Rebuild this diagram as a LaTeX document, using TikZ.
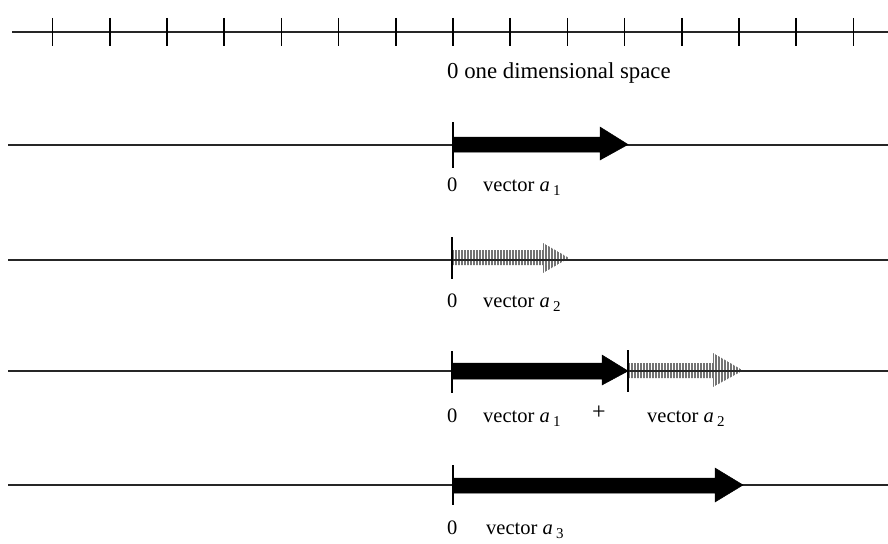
\documentclass[tikz,border=0pt]{standalone}
\usepackage{fontspec}
\setmainfont{Liberation Serif}
\begin{document}
\begin{tikzpicture}[x=1pt,y=-1pt,
  axis/.style={line width=1.4pt,black!85},
  tickmark/.style={line width=1.5pt,black},
  zerotick/.style={line width=1.3pt,black},
  solidvec/.style={fill=black,draw=black,line width=0.5pt},
  hatchline/.style={line width=1.2pt,black!55},
  lbl/.style={inner sep=0pt,anchor=base west,font=\fontsize{20.5}{24}\selectfont},
  toplbl/.style={inner sep=0pt,anchor=base west,font=\fontsize{22.8}{26}\selectfont}]
\useasboundingbox (0,0) rectangle (888,543);
\newcommand{\sub}[1]{\textit{a}\,\raisebox{-0.45ex}{\fontsize{15}{17}\selectfont #1}}
% ---- row 1: one dimensional space
\coordinate (r1l) at (12,32);
\coordinate (r1r) at (888,32);
\draw[axis,line width=1.8pt] (r1l) -- (r1r);
\foreach \k in {0,...,14}{
  \draw[tickmark] ({52.6+\k*57.2},18) -- ({52.6+\k*57.2},46);
}
\node[toplbl] (t1) at (447,78) {0 one dimensional space};
% ---- row 2: vector a1
\coordinate (r2l) at (8,145);
\coordinate (r2r) at (888,145);
\draw[axis] (r2l) -- (r2r);
\draw[solidvec] (453,137) -- (600,137) -- (600,127) -- (628,144.5) -- (600,160) -- (600,152) -- (453,152) -- cycle;
\draw[zerotick] (453,122) -- (453,168);
\node[lbl] (z2) at (447,191) {0};
\node[lbl] (v2) at (483,191) {vector \sub{1}};
% ---- row 3: vector a2 (hatched)
\coordinate (r3l) at (8,260);
\coordinate (r3r) at (888,260);
\begin{scope}
  \clip (452,250) -- (543,250) -- (543,243) -- (569,258) -- (543,273) -- (543,265) -- (452,265) -- cycle;
  \foreach \x in {453,456,...,570}{\draw[hatchline] (\x,240) -- (\x,280);}
\end{scope}
\draw[axis] (r3l) -- (r3r);
\draw[zerotick] (452,237) -- (452,279);
\node[lbl] (z3) at (447,307) {0};
\node[lbl] (v3) at (483,307) {vector \sub{2}};
% ---- row 4: a1 + a2
\coordinate (r4l) at (8,371);
\coordinate (r4r) at (888,371);
\draw[axis] (r4l) -- (r4r);
\draw[solidvec] (453,363) -- (602,363) -- (602,355) -- (628,371) -- (602,385) -- (602,379) -- (453,379) -- cycle;
\begin{scope}
  \clip (628,363) -- (713,363) -- (713,353) -- (743,370.5) -- (713,387) -- (713,378) -- (628,378) -- cycle;
  \foreach \x in {629,632,...,745}{\draw[hatchline] (\x,350) -- (\x,390);}
\end{scope}
\draw[axis] (628,371) -- (r4r);
\draw[zerotick] (452,351) -- (452,393);
\draw[zerotick] (628,350) -- (628,392);
\node[lbl] (z4) at (447,422) {0};
\node[lbl] (v4a) at (483,422) {vector \sub{1}};
\node[lbl,font=\fontsize{24}{26}\selectfont] (plus) at (592,419) {+};
\node[lbl] (v4b) at (647,422) {vector \sub{2}};
% ---- row 5: vector a3
\coordinate (r5l) at (8,485);
\coordinate (r5r) at (888,485);
\draw[axis] (r5l) -- (r5r);
\draw[solidvec] (453,478) -- (715,478) -- (715,468) -- (743,485) -- (715,502) -- (715,493) -- (453,493) -- cycle;
\draw[zerotick] (453,465) -- (453,505);
\node[lbl] (z5) at (447,534) {0};
\node[lbl] (v5) at (486,534) {vector \sub{3}};
\end{tikzpicture}
\end{document}
